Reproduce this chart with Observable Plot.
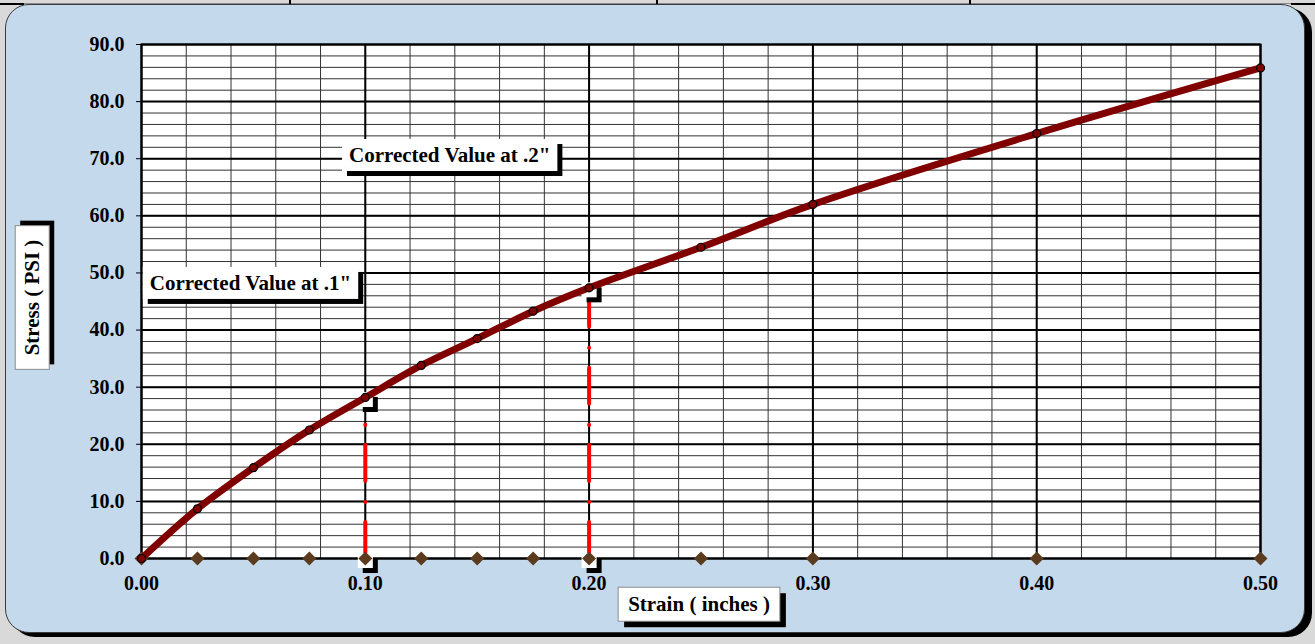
<!DOCTYPE html>
<html><head><meta charset="utf-8">
<script src="https://cdn.jsdelivr.net/npm/d3@7"></script>
<script src="https://cdn.jsdelivr.net/npm/@observablehq/plot@0.6"></script>
<style>
html,body{margin:0;padding:0;background:#d9d9d9;}
#wrap{position:relative;width:1315px;height:644px;overflow:hidden;}
.abs{position:absolute;}
</style></head><body>
<div id="wrap">
  <div class="abs" style="left:0;top:3px;width:1315px;height:1px;background:#8a8a8a"></div>
  <div class="abs" style="left:0;top:3px;width:24px;height:2px;background:#000"></div>
  <div class="abs" style="left:1291px;top:3px;width:24px;height:2px;background:#000"></div>
  <div class="abs" style="left:289px;top:0;width:2px;height:4px;background:#000"></div>
  <div class="abs" style="left:656px;top:0;width:2px;height:4px;background:#000"></div>
  <div class="abs" style="left:969px;top:0;width:2px;height:4px;background:#000"></div>
  <div class="abs" style="left:11px;top:8px;width:1301px;height:629px;background:#000;border-radius:24px"></div>
  <div class="abs" style="left:5px;top:4px;width:1298px;height:627px;background:#c5d9ec;border:1px solid #3a3a3a;border-radius:24px"></div>
  <div id="chart" class="abs" style="left:0;top:0"></div>
</div>
<script>
// ---- data ----
const strain   = [0, 0.025, 0.05, 0.075, 0.1, 0.125, 0.15, 0.175, 0.2, 0.25, 0.3, 0.4, 0.5];
const stress   = [0, 8.7, 15.9, 22.5, 28.2, 33.8, 38.5, 43.3, 47.4, 54.5, 62.0, 74.4, 85.9];
const baseline = [0, 0, 0, 0, 0, 0, 0, 0, 0, 0, 0, 0, 0];
const correctedStrain = [0.1, 0.2];
const correctedStress = [28.2, 47.4];
const annText   = ['Corrected Value at .1"', 'Corrected Value at .2"'];
const annStrain = [0.0487, 0.1377];
const annStress = [48.2, 70.6];
const xTicks = [0, 0.1, 0.2, 0.3, 0.4, 0.5];
const yTicks = [0, 10, 20, 30, 40, 50, 60, 70, 80, 90];
const xMinor = d3.ticks(0, 0.5, 25);
const yMinor = d3.ticks(0, 90, 45);
const xTitle = "Strain ( inches )";
const yTitle = "Stress ( PSI )";

const rows = strain.map((s, i) => ({strain: s, stress: stress[i], base: baseline[i]}));
const corr = correctedStrain.map((s, i) => ({strain: s, stress: correctedStress[i], base: 0}));
const brackets = corr.flatMap(d => [{strain: d.strain, stress: d.stress}, {strain: d.strain, stress: d.base}]);
const ann = annText.map((t, i) => ({text: t, strain: annStrain[i], stress: annStress[i]}));

const font = "'Liberation Serif','Times New Roman',serif";
const txt = {fontSize: 20, fontWeight: "bold", fill: "black", fontFamily: font};
const big = {...txt, fontSize: 21, textAnchor: "middle", lineAnchor: "middle"};

const chart = Plot.plot({
  width: 1315, height: 644,
  marginLeft: 141, marginRight: 55, marginTop: 44, marginBottom: 86,
  style: {background: "transparent", fontFamily: font},
  x: {domain: [0, 0.5]},
  y: {domain: [0, 90]},
  marks: [
    Plot.frame({fill: "white", stroke: null}),
    Plot.ruleX(xMinor, {stroke: "#333", strokeWidth: 1}),
    Plot.ruleY(yMinor, {stroke: "#333", strokeWidth: 1}),
    Plot.ruleX(xTicks, {stroke: "black", strokeWidth: 2}),
    Plot.ruleY(yTicks, {stroke: "black", strokeWidth: 2}),
    Plot.frame({stroke: "black", strokeWidth: 2}),
    Plot.axisY({ticks: yTicks, tickFormat: d => d.toFixed(1), tickSize: 5, tickPadding: 12, label: null, ...txt}),
    Plot.axisX({ticks: xTicks, tickFormat: d => d.toFixed(2), tickSize: 0, tickPadding: 17, label: null, ...txt}),
    Plot.ruleX(corr, {x: "strain", y1: "base", y2: "stress", stroke: "#ff0000", strokeWidth: 4,
      strokeDasharray: "36,20,0.1,21", strokeLinecap: "round"}),
    Plot.dot(brackets, {x: "strain", y: "stress", symbol: "square", r: 8.5, fill: "black", stroke: null, dx: 5, dy: 7}),
    Plot.dot(brackets, {x: "strain", y: "stress", symbol: "square", r: 8.5, fill: "white", stroke: null, dx: 0, dy: 2}),
    Plot.dot(rows, {x: "strain", y: "base", symbol: "diamond2", r: 6.3, fill: "#5a3b1e", stroke: null}),
    Plot.line(rows, {x: "strain", y: "stress", stroke: "#800000", strokeWidth: 7, curve: "catmull-rom"}),
    Plot.dot(rows, {x: "strain", y: "stress", r: 4, fill: "#800000", stroke: "black", strokeWidth: 1.2}),
    Plot.text(ann, {x: "strain", y: "stress", text: "text", ...big}),
    Plot.text([yTitle], {frameAnchor: "left", dx: -109, dy: -4, rotate: -90, text: d => d, ...big}),
    Plot.text([xTitle], {frameAnchor: "bottom", dx: -2, dy: 46, text: d => d, ...big})
  ]
});
document.getElementById("chart").append(chart);

// boxes with drop shadows behind the labels
const boxSpec = new Map([
  [annText[0], {px: 7, py: 4, sx: 5, sy: 5, border: "none"}],
  [annText[1], {px: 7, py: 4, sx: 5, sy: 5, border: "none"}],
  [yTitle, {px: 14, py: 5, sx: 5, sy: 5, border: "#8c8c8c"}],
  [xTitle, {px: 10, py: 5, sx: 6, sy: 6, border: "#8c8c8c"}]
]);
const svgns = "http://www.w3.org/2000/svg";
d3.select(chart).selectAll("text").each(function () {
  const spec = boxSpec.get(this.textContent);
  if (!spec) return;
  const bb = this.getBBox();
  const tr = this.getAttribute("transform");
  const parent = this.parentNode;
  const mk = (ox, oy, fill, stroke) => {
    const r = document.createElementNS(svgns, "rect");
    r.setAttribute("x", bb.x - spec.px + ox);
    r.setAttribute("y", bb.y - spec.py + oy);
    r.setAttribute("width", bb.width + 2 * spec.px);
    r.setAttribute("height", bb.height + 2 * spec.py);
    r.setAttribute("fill", fill);
    r.setAttribute("stroke", stroke);
    r.setAttribute("stroke-width", 1);
    if (tr) r.setAttribute("transform", tr);
    parent.insertBefore(r, this);
  };
  mk(spec.sx, spec.sy, "black", "none");
  mk(0, 0, "white", spec.border);
});
</script>
</body></html>
